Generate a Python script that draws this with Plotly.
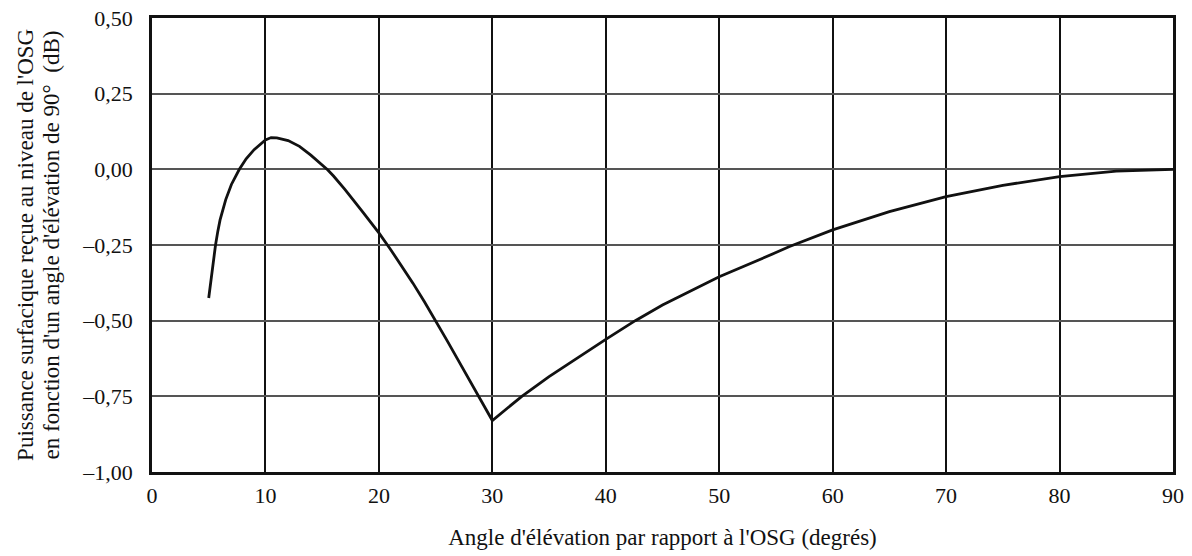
import plotly.graph_objects as go

# Elevation angle (degrees) and relative PFD (dB)
angle_deg = [5, 5.2, 5.4, 5.6, 5.8, 6, 6.5, 7, 7.7, 8.3, 9, 10, 10.5, 11, 12, 13, 14, 15,
             15.5, 16, 17, 18.5, 20, 21, 22, 23, 24, 25, 26, 27, 28, 28.8, 30,
             32.6, 35, 40, 42.6, 45, 50, 55, 56.2, 60, 65, 70, 75, 80, 85, 90]
pfd_db = [-0.425, -0.36, -0.302, -0.25, -0.205, -0.167, -0.10, -0.05, 0.0, 0.035, 0.065,
          0.097, 0.105, 0.104, 0.095, 0.076, 0.047, 0.015,
          -0.002, -0.022, -0.066, -0.137, -0.21, -0.263, -0.318, -0.376, -0.437, -0.50,
          -0.565, -0.631, -0.697, -0.75, -0.83,
          -0.75, -0.685, -0.562, -0.50, -0.448, -0.355, -0.275, -0.255, -0.20, -0.14, -0.09,
          -0.053, -0.024, -0.006, 0.0]

x_ticks = [0, 10, 20, 30, 40, 50, 60, 70, 80, 90]
y_ticks = [0.5, 0.25, 0.0, -0.25, -0.5, -0.75, -1.0]
y_tick_text = ["0,50", "0,25", "0,00", "\u20130,25", "\u20130,50", "\u20130,75", "\u20131,00"]

x_title = "Angle d'élévation par rapport à l'OSG (degrés)"
y_title_lines = ["Puissance surfacique reçue au niveau de l'OSG",
                 "en fonction d'un angle d'élévation de 90°  (dB)"]

FONT = "Liberation Serif, Times New Roman, serif"

fig = go.Figure()
fig.add_trace(go.Scatter(
    x=angle_deg, y=pfd_db, mode="lines",
    line=dict(color="#111111", width=2.8, shape="linear"),
    showlegend=False, hoverinfo="x+y",
))

title_x = [-0.1245, -0.0985]
fig.update_layout(
    width=1192, height=556,
    margin=dict(l=152, r=19, t=18, b=84, autoexpand=False),
    paper_bgcolor="white", plot_bgcolor="white",
    font=dict(family=FONT, size=22, color="#111111"),
    annotations=[dict(
        text=line, textangle=-90, showarrow=False,
        xref="paper", yref="paper", x=xp, y=0.5,
        xanchor="center", yanchor="middle",
        font=dict(family=FONT, size=23, color="#111111"),
    ) for line, xp in zip(y_title_lines, title_x)],
)

fig.update_xaxes(
    range=[0, 90], tickvals=x_ticks, ticktext=[str(v) for v in x_ticks],
    showgrid=True, gridcolor="#111111", gridwidth=2,
    showline=True, linecolor="#111111", linewidth=2.5, mirror=True,
    ticks="", ticklabelstandoff=2, zeroline=False, automargin=False,
    tickfont=dict(family=FONT, size=22, color="#111111"),
    title=dict(text=x_title, standoff=22, font=dict(family=FONT, size=23, color="#111111")),
)
fig.update_yaxes(
    range=[-1.0, 0.5], tickvals=y_ticks, ticktext=y_tick_text,
    showgrid=True, gridcolor="#555555", gridwidth=1.6,
    showline=True, linecolor="#111111", linewidth=2.5, mirror=True,
    ticks="", ticklabelstandoff=12, zeroline=False, automargin=False,
    tickfont=dict(family=FONT, size=22, color="#111111"),
)

fig.write_html(
    "out.html",
    config={"displayModeBar": False},
    post_script="document.body.style.margin='0px';document.body.style.overflow='hidden';",
)
